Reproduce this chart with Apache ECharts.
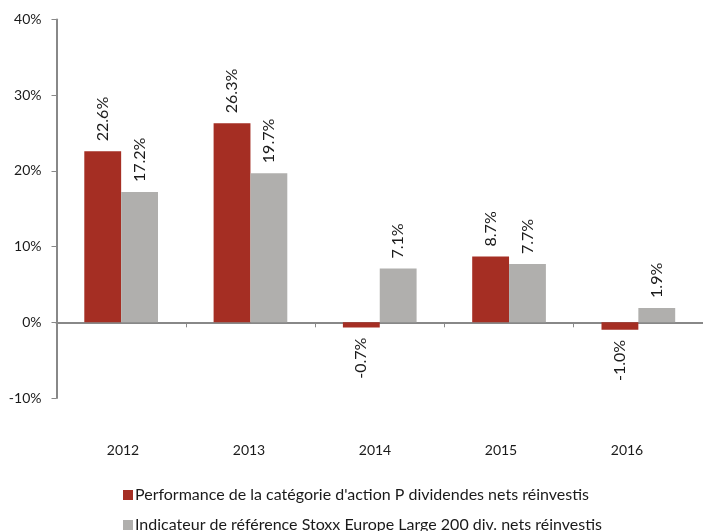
<!DOCTYPE html>
<html><head><meta charset="utf-8">
<script src="https://cdn.jsdelivr.net/npm/echarts@6/dist/echarts.min.js"></script>
<style>html,body{margin:0;padding:0;background:#fff}#c{width:703px;height:531px}</style>
</head><body><div id="c"></div>
<script>
var categories = ['2012','2013','2014','2015','2016'];
var seriesNames = ["Performance de la catégorie d'action P dividendes nets réinvestis",
                   "Indicateur de référence Stoxx Europe Large 200 div. nets réinvestis"];
var fundValues = [22.6, 26.3, -0.7, 8.7, -1.0];
var benchValues = [17.2, 19.7, 7.1, 7.7, 1.9];
var yTicks = [-10, 0, 10, 20, 30, 40];

var FONT = 'Lato';
var chart = echarts.init(document.getElementById('c'), null, {renderer:'canvas'});
function lbl(){
  return {
    show: true, rotate: 90, distance: 10,
    fontFamily: FONT, fontSize: 16, color: '#1a1a1a',
    formatter: function(p){ return p.value.toFixed(1) + '%'; }
  };
}
function mk(vals, color, name){
  return {
    name: name, type: 'bar', xAxisIndex: 0, yAxisIndex: 0,
    barGap: '0%', barCategoryGap: '43%',
    itemStyle: {color: color},
    data: vals.map(function(v){
      return {value: v, label: v >= 0 ? {position:'top', align:'left', verticalAlign:'middle'} :
                                         {position:'bottom', align:'right', verticalAlign:'middle'}};
    }),
    label: lbl()
  };
}
function leg(i, top){
  return {
    orient:'vertical', left:118, top:top, itemWidth:10, itemHeight:10, itemGap:0,
    icon:'rect', textStyle:{fontFamily:FONT, fontSize:16, color:'#1a1a1a', padding:[0,0,0,-3]},
    selectedMode:false,
    data: [seriesNames[i]]
  };
}
chart.setOption({
  animation: false,
  grid: [
    {left: 56.5, top: 19.5, width: 650, height: 378.5},
    {left: 60, top: 19.5, width: 630, height: 303}
  ],
  xAxis: [
    {type:'category', gridIndex:0, data: categories, position:'bottom',
     axisLine:{onZero:true, lineStyle:{color:'#888', width:2}},
     axisTick:{show:true, alignWithLabel:false, length:5, inside:false, lineStyle:{color:'#888', width:1}},
     axisLabel:{show:false}},
    {type:'category', gridIndex:1, data: categories, position:'bottom',
     axisLine:{show:false}, axisTick:{show:false},
     axisLabel:{show:true, margin:121, fontFamily:FONT, fontSize:14, color:'#1a1a1a'}}
  ],
  yAxis: [
    {type:'value', gridIndex:0, min:-10, max:40, interval:10,
     axisLine:{show:true, lineStyle:{color:'#888', width:2}},
     axisTick:{show:true, length:5, lineStyle:{color:'#888'}},
     splitLine:{show:false},
     axisLabel:{fontFamily:FONT, fontSize:14, color:'#1a1a1a', margin:15,
       formatter:function(v){return yTicks.indexOf(v) >= 0 ? v + '%' : '';}}},
    {type:'value', gridIndex:1, show:false, min:0, max:1}
  ],
  legend: [leg(0, 482), leg(1, 512)],
  series: [
    mk(fundValues, '#A52E23', seriesNames[0]),
    mk(benchValues, '#B0AFAD', seriesNames[1])
  ]
});
</script></body></html>
